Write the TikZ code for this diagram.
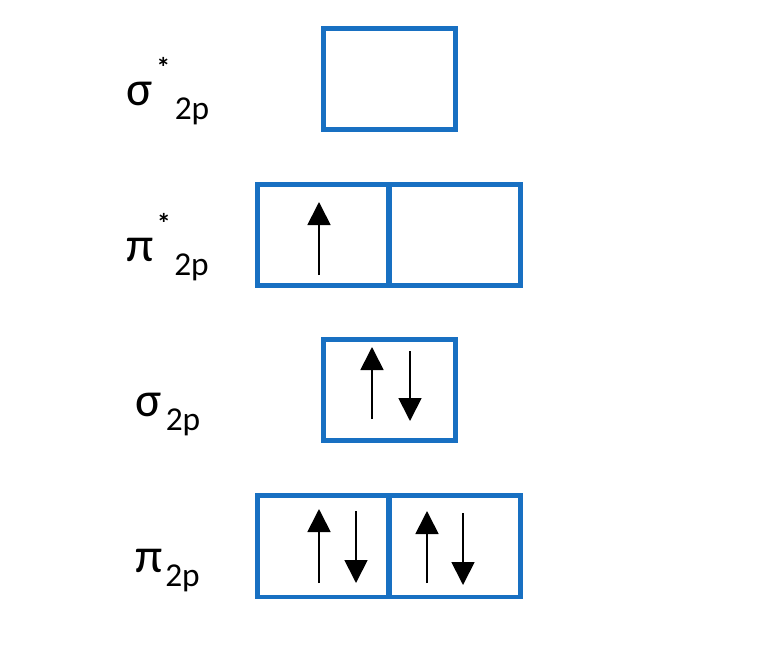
\documentclass[tikz,border=0pt]{standalone}
\usepackage{fontspec}
\setmainfont{Carlito}
\usetikzlibrary{arrows.meta}
\definecolor{boxBlue}{HTML}{1870C2}

\begin{document}
\begin{tikzpicture}[x=0.02cm, y=-0.02cm,
        orbital/.style={draw=boxBlue, line width=0.1cm, minimum width=2.64cm, minimum height=2.04cm, inner sep=0pt, outer sep=0pt},
        spin/.style={line width=0.035cm, -{Triangle[length=0.46cm, width=0.46cm]}},
        greek/.style={font=\fontsize{28}{28}\selectfont, inner sep=0pt},
        sub/.style={font=\fontsize{19}{19}\selectfont, inner sep=0pt},
        star/.style={font=\bfseries\fontsize{16}{16}\selectfont, inner sep=0pt}]

    \useasboundingbox (0,0) rectangle (784,646);

    \newcommand{\MOLabel}[6]{%
        % #1 name, #2 x, #3 y, #4 letter, #5 gap to 2p, #6 star
        \node[greek] (#1) at (#2,#3) {#4};
        \node[sub, anchor=west] (#1sub) at ([xshift=#5, yshift=-0.34cm]#1.east) {2p};
        \ifx&#6&\else
            \node[star] (#1star) at ([xshift=0.2cm, yshift=0.54cm]#1.east) {*};
        \fi
    }

    % boxes
    \node[orbital] (sigStar) at (389.5,79) {};
    \node[orbital] (piStarA) at (323,235) {};
    \node[orbital] (piStarB) at (455,235) {};
    \node[orbital] (sigma) at (389.5,390) {};
    \node[orbital] (piA) at (323,546) {};
    \node[orbital] (piB) at (455,546) {};

    % labels
    \MOLabel{lsigStar}{140}{94}{σ}{0.42cm}{x}
    \MOLabel{lpiStar}{140}{250}{π}{0.4cm}{x}
    \MOLabel{lsigma}{149}{405}{σ}{0.06cm}{}
    \MOLabel{lpi}{149}{561}{π}{0.04cm}{}

    % electrons
    \draw[spin] (319,275) -- (319,202);

    \draw[spin] (372,419) -- (372,347);
    \draw[spin] (410,351) -- (410,421);

    \draw[spin] (319,583) -- (319,509);
    \draw[spin] (356,511) -- (356,583);
    \draw[spin] (427,583) -- (427,511);
    \draw[spin] (463,513) -- (463,585);

\end{tikzpicture}
\end{document}
